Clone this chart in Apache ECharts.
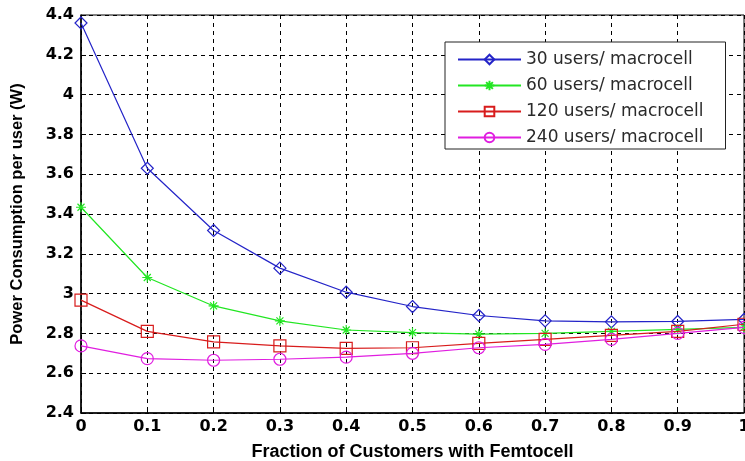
<!DOCTYPE html>
<html><head><meta charset="utf-8">
<script src="https://cdn.jsdelivr.net/npm/echarts@6/dist/echarts.min.js"></script>
<style>html,body{margin:0;padding:0;background:#fff}#c{width:745px;height:461px}</style>
</head><body><div id="c"></div>
<script>
var fractions = [0, 0.1, 0.2, 0.3, 0.4, 0.5, 0.6, 0.7, 0.8, 0.9, 1.0];
var users30  = [4.36, 3.63, 3.317, 3.128, 3.007, 2.935, 2.89, 2.863, 2.858, 2.86, 2.87];
var users60  = [3.434, 3.081, 2.938, 2.863, 2.817, 2.804, 2.796, 2.80, 2.81, 2.82, 2.83];
var users120 = [2.967, 2.81, 2.757, 2.737, 2.725, 2.728, 2.75, 2.77, 2.79, 2.81, 2.846];
var users240 = [2.737, 2.673, 2.665, 2.67, 2.681, 2.70, 2.728, 2.745, 2.77, 2.80, 2.83];
var seriesNames = ['30 users/ macrocell', '60 users/ macrocell', '120 users/ macrocell', '240 users/ macrocell'];

function pairs(v){ return fractions.map(function(x,i){ return [x, v[i]]; }); }
var star = 'path://M0,-10L0,10M-10,0L10,0M-7,-7L7,7M-7,7L7,-7';
var defs = [
  {data: users30,  color: '#2424c8', symbol: 'diamond', size: 12},
  {data: users60,  color: '#22e622', symbol: star, size: 10},
  {data: users120, color: '#d81c1c', symbol: 'rect', size: 12},
  {data: users240, color: '#e01ee0', symbol: 'circle', size: 12}
];
var chart = echarts.init(document.getElementById('c'));
chart.setOption({
  animation: false,
  grid: {left: 81, right: 1, top: 15, bottom: 48, outerBoundsMode: 'none', containLabel: false,
    show: true, borderColor: '#000', borderWidth: 1, backgroundColor: '#fff'},
  legend: {
    orient: 'vertical', left: 445, top: 42,
    padding: [9, 22, 3, 12], itemGap: 9, itemWidth: 63, itemHeight: 12,
    backgroundColor: '#fff', borderColor: '#222', borderWidth: 1, borderRadius: 0,
    textStyle: {fontFamily: 'DejaVu Sans', fontSize: 17, color: '#2a2a2a', lineHeight: 17},
    data: seriesNames
  },
  xAxis: {
    type: 'value', min: 0, max: 1, interval: 0.1,
    name: 'Fraction of Customers with Femtocell', nameLocation: 'middle', nameGap: 30,
    nameTextStyle: {fontFamily: 'Liberation Sans', fontWeight: 'bold', fontSize: 18, color: '#000'},
    axisLine: {lineStyle: {color: '#000', width: 1.5}},
    axisTick: {inside: true, length: 5, lineStyle: {color: '#000'}},
    axisLabel: {margin: 6, fontFamily: 'DejaVu Sans', fontWeight: 'bold', fontSize: 16, color: '#000',
      formatter: function(v){ return String(Math.round(v*10)/10); }},
    splitLine: {show: true, lineStyle: {color: '#000', type: [4, 4], width: 1}}
  },
  yAxis: {
    type: 'value', min: 2.4, max: 4.4, interval: 0.2,
    name: 'Power Consumption per user (W)', nameLocation: 'middle', nameGap: 55,
    nameTextStyle: {fontFamily: 'Liberation Sans', fontWeight: 'bold', fontSize: 16.5, color: '#000'},
    axisLine: {show: true, lineStyle: {color: '#000', width: 1.5}},
    axisTick: {show: true, inside: true, length: 5, lineStyle: {color: '#000'}},
    axisLabel: {margin: 7, fontFamily: 'DejaVu Sans', fontWeight: 'bold', fontSize: 16, color: '#000',
      formatter: function(v){ return String(Math.round(v*10)/10); }},
    splitLine: {show: true, lineStyle: {color: '#000', type: [4, 4], width: 1}}
  },
  series: defs.map(function(d, i){
    return {
      name: seriesNames[i], type: 'line', data: pairs(d.data),
      symbol: d.symbol, symbolSize: d.size, showAllSymbol: true,
      lineStyle: {color: d.color, width: 1.2},
      itemStyle: {color: 'rgba(255,255,255,0)', borderColor: d.color, borderWidth: 1.2},
      emphasis: {disabled: true}, z: 3 + i
    };
  })
});
</script></body></html>
